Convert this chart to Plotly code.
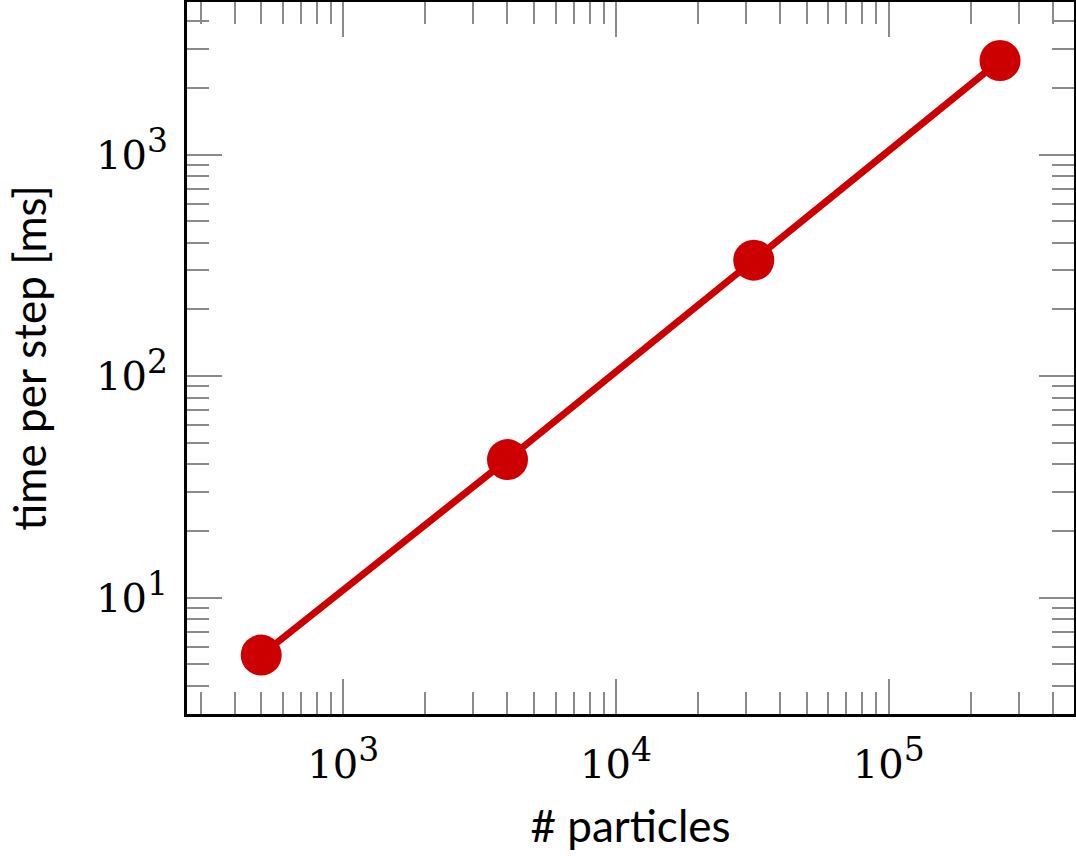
import plotly.graph_objects as go

# data
particles = [500, 4000, 32000, 256000]
time_ms = [5.5, 42, 334, 2660]

x_exponents = [3, 4, 5]
y_exponents = [1, 2, 3]

SUP = "<sup><span style='font-size:33px'>{}</span></sup>"
x_tickvals = [10 ** e for e in x_exponents]
x_ticktext = ["10" + SUP.format(e) for e in x_exponents]
y_tickvals = [10 ** e for e in y_exponents]
y_ticktext = ["10" + SUP.format(e) for e in y_exponents]

RED = "#cc0000"
TICK = "#8a8a8a"
TICKFONT = dict(family="DejaVu Serif", size=40, color="black")
TITLEFONT = "Lato"

fig = go.Figure()
fig.add_trace(go.Scatter(
    x=particles, y=time_ms, mode="lines+markers",
    line=dict(color=RED, width=7),
    marker=dict(color=RED, size=41),
    showlegend=False,
))

axis_common = dict(
    type="log",
    automargin=False,
    showgrid=False,
    zeroline=False,
    showline=True, linecolor="black", linewidth=3,
    mirror="allticks",
    ticks="inside", ticklen=35, tickwidth=2, tickcolor=TICK,
    tickfont=TICKFONT,
    minor=dict(ticks="inside", ticklen=22, tickwidth=2, tickcolor=TICK,
               dtick="D1", showgrid=False),
)

fig.update_xaxes(
    **axis_common,
    range=[2.4268, 5.6795],
    tickmode="array", tickvals=x_tickvals, ticktext=x_ticktext,
    ticklabelstandoff=13,
    title=dict(text="# particles", font=dict(family=TITLEFONT, size=44, color="black"),
               standoff=26),
)
fig.update_yaxes(
    **axis_common,
    range=[0.4745, 3.6892],
    tickmode="array", tickvals=y_tickvals, ticktext=y_ticktext,
    ticklabelstandoff=8,
    title=dict(text="time per step [ms]", font=dict(family=TITLEFONT, size=44, color="black"),
               standoff=36),
)

fig.update_layout(
    width=1076, height=861,
    margin=dict(l=187, r=2, t=2, b=147, pad=0),
    paper_bgcolor="white", plot_bgcolor="white",
)

fig.write_html("out.html", config={"displayModeBar": False},
               post_script="document.body.style.margin='0';")
